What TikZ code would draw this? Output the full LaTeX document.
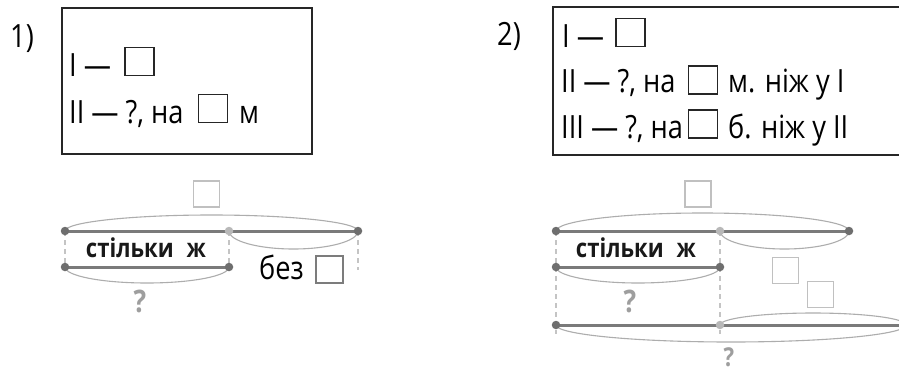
\documentclass[tikz,border=0pt]{standalone}
\usepackage{fontspec}
\setmainfont{Open Sans}
\newfontfamily\recfont[FakeStretch=0.85]{Open Sans}
\definecolor{segcol}{HTML}{7A7A7A}
\definecolor{dotdark}{HTML}{6E6E6E}
\definecolor{dotlight}{HTML}{B8B8B8}
\definecolor{bracecol}{HTML}{ADADAD}
\definecolor{dashcol}{HTML}{C4C4C4}
\definecolor{qcol}{HTML}{9E9E9E}
\definecolor{gsq}{HTML}{C0C0C0}
\definecolor{dsq}{HTML}{7C7C7C}
\definecolor{framecol}{HTML}{262626}
\begin{document}
\begin{tikzpicture}[x=1pt,y=-1pt,
  framebox/.style={draw=framecol, line width=1.6pt},
  txt/.style={inner sep=0pt, anchor=base west, text=black, font=\recfont\fontsize{32}{38}\selectfont},
  numlabel/.style={inner sep=0pt, anchor=base west, text=black, font=\recfont\fontsize{32}{38}\selectfont},
  blank/.style={draw=framecol, line width=1.3pt, minimum width=29pt, minimum height=28pt, inner sep=0pt},
  gblank/.style={draw=gsq, line width=1.3pt, minimum width=26pt, minimum height=26pt, inner sep=0pt},
  seg/.style={draw=segcol, line width=3pt},
  brace/.style={draw=bracecol, line width=1.1pt},
  guide/.style={draw=dashcol, line width=1.1pt, dash pattern=on 5pt off 4pt},
  dotd/.style={circle, fill=dotdark, inner sep=0pt, minimum size=8.5pt},
  dotl/.style={circle, fill=dotlight, inner sep=0pt, minimum size=8.5pt},
  wordlbl/.style={inner sep=0pt, anchor=base, text=black!90, font=\recfont\fontsize{26}{30}\selectfont\bfseries},
  qmark/.style={inner sep=0pt, anchor=base, text=qcol, font=\recfont\fontsize{31}{36}\selectfont\bfseries}]
\clip (0,0) rectangle (899,370);
\fill[white] (0,0) rectangle (899,370);

% ---------- task 1: the short record ----------
\node[numlabel] (n1) at (10,47) {1)};
\draw[framebox] (62,8) rectangle (312,154);
\node[txt] (r11) at (69,76) {I —};
\node[blank] (s11) at (139.5,61.5) {};
\node[txt] (r12) at (69,123) {II — ?, на};
\node[blank] (s12) at (213,108.5) {};
\node[txt] (r12b) at (239,123) {м};

% ---------- task 1: the segment scheme ----------
\coordinate (A1) at (65,231);
\coordinate (M1) at (229,231);
\coordinate (B1) at (358,231);
\coordinate (C1) at (65,267);
\coordinate (D1) at (229,267);
\coordinate (E1) at (358,270);

\draw[guide] (A1) -- (C1);
\draw[guide] (M1) -- (D1);
\draw[guide] (B1) -- (E1);
\draw[brace] (A1) arc[start angle=180, end angle=0, x radius=146.5pt, y radius=16pt];
\draw[brace] (M1) arc[start angle=180, end angle=360, x radius=64.5pt, y radius=18pt];
\draw[brace] (C1) arc[start angle=180, end angle=360, x radius=82pt, y radius=16pt];
\draw[seg] (A1) -- (B1);
\draw[seg] (C1) -- (D1);
\node[dotd] (pA1) at (A1) {};
\node[dotl] (pM1) at (M1) {};
\node[dotd] (pB1) at (B1) {};
\node[dotd] (pC1) at (C1) {};
\node[dotd] (pD1) at (D1) {};

\node[gblank] (t1) at (206.5,194) {};
\node[wordlbl] (w1) at (146,257) {стільки\enspace ж};
\node[inner sep=0pt, anchor=base west, text=black, font=\recfont\fontsize{32}{36}\selectfont] (bez) at (259,279) {без};
\node[draw=dsq, line width=1.3pt, minimum width=27pt, minimum height=27pt, inner sep=0pt] (s13) at (329.5,269.5) {};
\node[qmark] (q1) at (140,312) {?};

% ---------- task 2: the short record ----------
\node[numlabel] (n2) at (497,45) {2)};
\draw[framebox] (553,7) rectangle (915,155);
\node[txt] (r21) at (562,47) {I —};
\node[blank] (s21) at (630.5,32.5) {};
\node[txt] (r22) at (561,92) {II — ?, на};
\node[blank] (s22) at (703,80) {};
\node[txt] (r22b) at (728,92) {м. ніж у I};
\node[txt] (r23) at (561,138) {III — ?, на};
\node[blank] (s23) at (703,124) {};
\node[txt] (r23b) at (728,138) {б. ніж у II};

% ---------- task 2: the segment scheme ----------
\coordinate (A2) at (556,231);
\coordinate (M2) at (720,231);
\coordinate (B2) at (849,231);
\coordinate (C2) at (556,267);
\coordinate (D2) at (720,267);
\coordinate (F2) at (556,325);
\coordinate (G2) at (720,325);
\coordinate (H2) at (906,325);
\coordinate (F2e) at (556,334);
\coordinate (G2e) at (720,334);

\draw[guide] (A2) -- (F2e);
\draw[guide] (M2) -- (G2e);
\draw[brace] (A2) arc[start angle=180, end angle=0, x radius=146.5pt, y radius=18pt];
\draw[brace] (M2) arc[start angle=180, end angle=360, x radius=64.5pt, y radius=18pt];
\draw[brace] (C2) arc[start angle=180, end angle=360, x radius=82pt, y radius=16pt];
\draw[brace] (G2) arc[start angle=180, end angle=0, x radius=93pt, y radius=12pt];
\draw[brace] (F2) arc[start angle=180, end angle=360, x radius=175pt, y radius=17pt];
\draw[seg] (A2) -- (B2);
\draw[seg] (C2) -- (D2);
\draw[seg] (F2) -- (H2);
\node[dotd] (pA2) at (A2) {};
\node[dotl] (pM2) at (M2) {};
\node[dotd] (pB2) at (B2) {};
\node[dotd] (pC2) at (C2) {};
\node[dotd] (pD2) at (D2) {};
\node[dotd] (pF2) at (F2) {};
\node[dotl] (pG2) at (G2) {};

\node[gblank] (t2) at (698,194) {};
\node[wordlbl] (w2) at (636,257) {стільки\enspace ж};
\node[qmark] (q2) at (630,312) {?};
\node[gblank] (t3) at (785.5,270.5) {};
\node[gblank] (t4) at (820.5,294.5) {};
\node[qmark, font=\recfont\fontsize{26}{30}\selectfont\bfseries] (q3) at (729,366) {?};
\end{tikzpicture}
\end{document}
